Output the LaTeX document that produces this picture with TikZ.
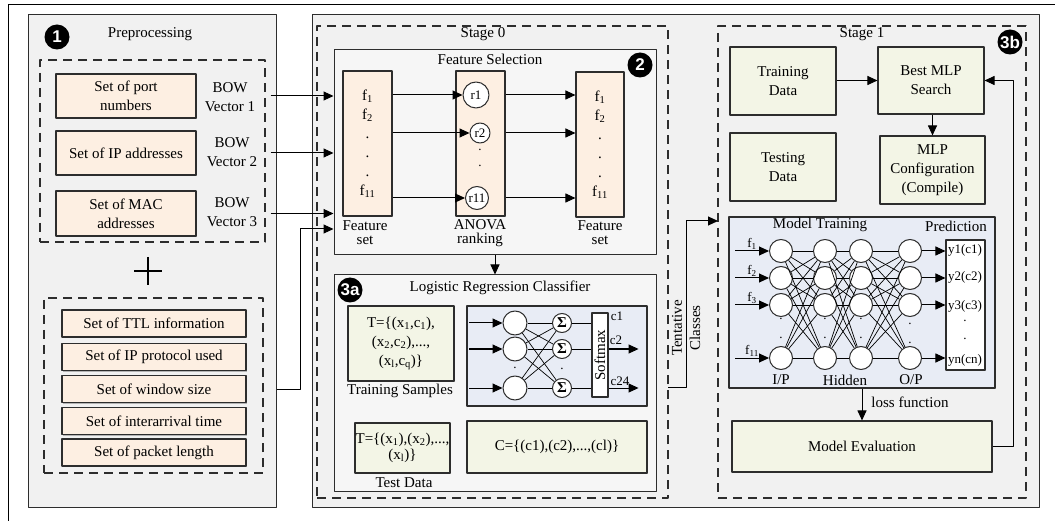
\documentclass[tikz,border=0pt]{standalone}
\usepackage{fontspec}
\setmainfont{Liberation Serif}
\setsansfont{Liberation Sans}
\usetikzlibrary{arrows.meta, positioning, shadows}
\definecolor{peachfill}{RGB}{253,239,226}
\definecolor{datagreen}{RGB}{243,245,230}
\definecolor{netblue}{RGB}{232,236,245}
\definecolor{panelgray}{RGB}{241,241,241}
\definecolor{subgray}{RGB}{246,246,246}
\definecolor{edgegray}{RGB}{45,45,45}
\tikzset{
  main_font/.style = {font=\fontsize{15}{19}\selectfont},
  tight_font/.style = {font=\fontsize{15}{14}\selectfont},
  small_font/.style = {font=\fontsize{13}{15}\selectfont},
  badge_font/.style = {font=\sffamily\bfseries\fontsize{17}{17}\selectfont}
}
\tikzset{
  panel/.style = {draw=edgegray, line width=1pt, fill=panelgray, inner sep=0pt},
  sub_panel/.style = {panel, fill=subgray},
  stage/.style = {draw=edgegray, line width=1.4pt, dash pattern=on 9pt off 6pt, inner sep=0pt},
  box/.style = {main_font, align=center, draw=edgegray, line width=1.1pt, inner sep=0pt,
    drop shadow={shadow xshift=1.3pt, shadow yshift=-1.3pt, opacity=0.25, fill=black}},
  set_box/.style = {box, fill=peachfill},
  data_box/.style = {box, fill=datagreen},
  net_box/.style = {box, fill=netblue},
  heading/.style = {main_font, inner sep=0pt},
  tag/.style = {small_font, align=center, inner sep=0pt},
  badge/.style = {badge_font, circle, fill=black, text=white, inner sep=0pt, minimum size=25pt},
  neuron/.style = {circle, draw=edgegray, fill=white, line width=1pt, inner sep=0pt, minimum size=#1},
  neuron/.default = 23pt,
  sum_node/.style = {neuron=19pt, font=\bfseries\fontsize{15}{15}\selectfont},
  arrow/.style = {-{Triangle[length=10pt, width=9pt]}, line width=1pt},
  wire/.style = {line width=0.7pt}
}
\begin{document}
\begin{tikzpicture}[x=1pt, y=-1pt, line join=round]
    \useasboundingbox (0,0) rectangle (1055,521);
    \fill[white] (0,0) rectangle (1055,521);
    \draw[line width=0.8pt] (8,521) -- (8,4) -- (1055,4);

    % Panels and stages
    \node[panel, minimum width=248, minimum height=492] (pre) at (152,261) {};
    \node[panel, minimum width=727, minimum height=492] (stages) at (675.5,261) {};
    \node[stage, minimum width=225, minimum height=182] (pre_sets) at (152.5,151) {};
    \node[stage, minimum width=219, minimum height=175] (pre_extra) at (153.5,385.5) {};
    \node[stage, minimum width=351, minimum height=472] (stage_0) at (492.5,262) {};
    \node[stage, minimum width=308, minimum height=472] (stage_1) at (872,262) {};

    % Preprocessing
    \node[badge] (b_1) at (57,37) {1};
    \node[heading] (pre_title) at (150,34) {Preprocessing};
    \node[set_box, minimum width=140, minimum height=44] (port) at (126,96) {Set of port\\numbers};
    \node[set_box, minimum width=140, minimum height=44] (ip) at (126,153) {Set of IP addresses};
    \node[set_box, minimum width=140, minimum height=45] (mac) at (126,213.5) {Set of MAC\\addresses};
    \node[heading, align=center] (bow_1) at (230,97.5) {BOW\\Vector 1};
    \node[heading, align=center] (bow_2) at (232,152.5) {BOW\\Vector 2};
    \node[heading, align=center] (bow_3) at (232,212.5) {BOW\\Vector 3};
    \draw[line width=2.5pt] (134,271) -- (162,271) (148,257) -- (148,285);
    \node[set_box, minimum width=184, minimum height=27] (ttl) at (154,323.5) {Set of TTL information};
    \node[set_box, minimum width=184, minimum height=27] (proto) at (154,357) {Set of IP protocol used};
    \node[set_box, minimum width=184, minimum height=27] (window) at (154,389) {Set of window size};
    \node[set_box, minimum width=184, minimum height=27] (inter) at (154,421) {Set of interarrival time};
    \node[set_box, minimum width=184, minimum height=27] (packet) at (154,452.5) {Set of packet length};

    % Stage 0: feature selection
    \node[heading] (stage_0_title) at (483,34) {Stage 0};
    \node[sub_panel, minimum width=322, minimum height=205] (fs) at (495,152.5) {};
    \node[heading] (fs_title) at (490,59) {Feature Selection};
    \node[badge] (b_2) at (640,65) {2};
    \node[set_box, minimum width=49, minimum height=145] (fset_1) at (367.5,143.5)
        {f\textsubscript{1}\\f\textsubscript{2}\\.\\.\\.\\f\textsubscript{11}};
    \node[set_box, minimum width=49, minimum height=145] (anova) at (480.5,143.5) {};
    \node[set_box, minimum width=48, minimum height=145] (fset_2) at (600,144.5)
        {f\textsubscript{1}\\f\textsubscript{2}\\.\\.\\.\\f\textsubscript{11}};
    \node[neuron=26pt, small_font] (r_1) at (476,95) {r1};
    \node[neuron=20pt, small_font] (r_2) at (480,133) {r2};
    \node[neuron=23pt, small_font] (r_11) at (477,198) {r11};
    \node[tag] (r_dot_a) at (480,150) {.};
    \node[tag] (r_dot_b) at (480,166) {.};
    \node[tight_font, align=center, inner sep=0pt] (fset_1_t) at (365,233) {Feature\\set};
    \node[tight_font, align=center, inner sep=0pt] (anova_t) at (480,233) {ANOVA\\ranking};
    \node[tight_font, align=center, inner sep=0pt] (fset_2_t) at (600,233) {Feature\\set};
    \foreach \r in {r_1, r_2, r_11}{
        \draw[arrow] (fset_1.east |- \r) -- (\r.west);
        \draw[arrow] (anova.east |- \r) -- (fset_2.west |- \r);
    }

    % Inputs to feature selection
    \coordinate (bend) at (300,229);
    \draw[arrow] ([xshift=5pt]pre_sets.east |- port) -- (fs.west |- port);
    \draw[arrow] ([xshift=5pt]pre_sets.east |- ip) -- (fs.west |- ip);
    \draw[arrow] ([xshift=5pt]pre_sets.east |- mac) -- (fs.west |- mac);
    \draw[arrow] (pre.east |- window) -| (bend) -- (fs.west |- bend);

    % Stage 0: logistic regression
    \node[sub_panel, minimum width=322, minimum height=216] (lr) at (495,383) {};
    \draw[arrow] (fs.south) -- (lr.north);
    \node[badge] (b_3a) at (350,290) {3a};
    \node[heading] (lr_title) at (500,288) {Logistic Regression Classifier};
    \node[data_box, minimum width=106, minimum height=75] (train) at (401,343.5)
        {T=\{(x\textsubscript{1},c\textsubscript{1}),\\(x\textsubscript{2},c\textsubscript{2}),...,\\(x\textsubscript{l},c\textsubscript{q})\}};
    \node[heading] (train_t) at (400,391) {Training Samples};
    \node[net_box, minimum width=180, minimum height=100] (nn) at (557,356) {};
    \foreach \i/\y in {1/323, 2/349, 3/388}{
        \node[neuron=24pt] (l_\i) at (515,\y) {};
        \node[sum_node] (s_\i) at (562,\y) {Σ};
    }
    \node[box, fill=white, minimum width=16, minimum height=84] (softmax) at (600,355) {};
    \node[main_font, rotate=90, inner sep=0pt] (softmax_t) at (softmax.center) {Softmax};
    \foreach \i in {1,2,3}{
        \draw[arrow] ([xshift=3pt]nn.west |- l_\i) -- (l_\i.west);
        \draw[wire] (s_\i) -- (softmax.west |- s_\i);
        \foreach \j in {1,2,3}
            \draw[wire] (l_\i) -- (s_\j);
    }
    \node[tag] (l_dots) at (515,368) {.};
    \node[tag] (s_dots) at (562,369) {.};
    \node[tag] (c_1) at (617,316) {c1};
    \node[tag] (c_2) at (616,340) {c2};
    \node[tag] (c_24) at (620,381) {c24};
    \draw[arrow, shorten >=9pt] (softmax.east |- s_2) -- (nn.east |- s_2);
    \draw[arrow, shorten >=9pt] (softmax.east |- s_3) -- (nn.east |- s_3);
    \node[data_box, minimum width=95, minimum height=50, font=\fontsize{15}{16}\selectfont] (test) at (402.5,448)
        {T=\{(x\textsubscript{1}),(x\textsubscript{2}),...,\\(x\textsubscript{l})\}};
    \node[heading] (test_t) at (404,483) {Test Data};
    \node[data_box, minimum width=180, minimum height=52] (classes) at (557,447) {C=\{(c1),(c2),...,(cl)\}};

    % Tentative classes
    \coordinate (tent_start) at (668,387);
    \coordinate (tent_up) at (686,221);
    \coordinate (tent_end) at (718,221);
    \draw[arrow] (tent_start) -| (tent_up) -- (tent_end);
    \node[heading, rotate=90] (tent_1) at (677,328) {Tentative};
    \node[heading, rotate=90] (tent_2) at (695,328) {Classes};

    % Stage 1
    \node[heading] (stage_1_title) at (862,34) {Stage 1};
    \node[badge] (b_3b) at (1010,42) {3b};
    \node[data_box, minimum width=106, minimum height=68] (train_data) at (783,81) {Training\\Data};
    \node[data_box, minimum width=106, minimum height=67] (best_mlp) at (931,80.5) {Best MLP\\Search};
    \node[data_box, minimum width=106, minimum height=68] (test_data) at (783,167) {Testing\\Data};
    \node[data_box, minimum width=105, minimum height=68] (mlp_conf) at (932.5,170) {MLP\\Configuration\\(Compile)};
    \draw[arrow] (train_data.east |- best_mlp) -- (best_mlp.west);
    \draw[arrow] (best_mlp.south -| mlp_conf) -- (mlp_conf.north);

    \node[net_box, minimum width=266, minimum height=171] (model_train) at (862,302.5) {};
    \node[heading] (mt_title) at (820,225) {Model Training};
    \node[heading] (pred_title) at (956,226) {Prediction};
    \foreach \c/\x in {1/781, 2/825, 3/861, 4/910}
        \foreach \r/\y in {1/251, 2/278, 3/305, 4/358}
            \node[neuron] (m_\c_\r) at (\x,\y) {};
    \foreach \a/\b in {1/2, 2/3, 3/4}
        \foreach \i in {1,...,4}
            \foreach \j in {1,...,4}
                \draw[wire] (m_\a_\i) -- (m_\b_\j);
    \foreach \x in {781, 825, 861}
        \node[tag] at (\x,328) {.\\[4pt].};
    \node[tag] at (910,333) {.\\[4pt].};
    \node[box, fill=white, minimum width=39, minimum height=130] (pred) at (965.5,305) {};
    \foreach \r/\t in {1/1, 2/2, 3/3, 4/{11}}{
        \draw[arrow] ([xshift=7pt]model_train.west |- m_1_\r) -- (m_1_\r.west);
        \draw[arrow] (m_4_\r.east) -- (pred.west |- m_4_\r);
        \node[tag] (f_in_\r) at ([xshift=-29pt, yshift=7pt]m_1_\r.center) {f\textsubscript{\t}};
    }
    \node[tag] (y_1) at (965,250) {y1(c1)};
    \node[tag] (y_2) at (965,277) {y2(c2)};
    \node[tag] (y_3) at (965,306) {y3(c3)};
    \node[tag] (y_dots) at (965,330) {.\\[3pt].};
    \node[tag] (y_n) at (965,360) {yn(cn)};
    \node[heading] (ip_t) at (781,380) {I/P};
    \node[heading] (hidden_t) at (845,380) {Hidden};
    \node[heading] (op_t) at (911,380) {O/P};

    \node[data_box, minimum width=260, minimum height=51] (model_eval) at (862,446.5) {Model Evaluation};
    \draw[arrow] (model_train.south) -- (model_eval.north);
    \node[heading] (loss_t) at (910,402) {loss function};
    \coordinate (feedback) at (1013,80.5);
    \draw[arrow] (model_eval.east) -| (feedback) -- (best_mlp.east);
\end{tikzpicture}
\end{document}
